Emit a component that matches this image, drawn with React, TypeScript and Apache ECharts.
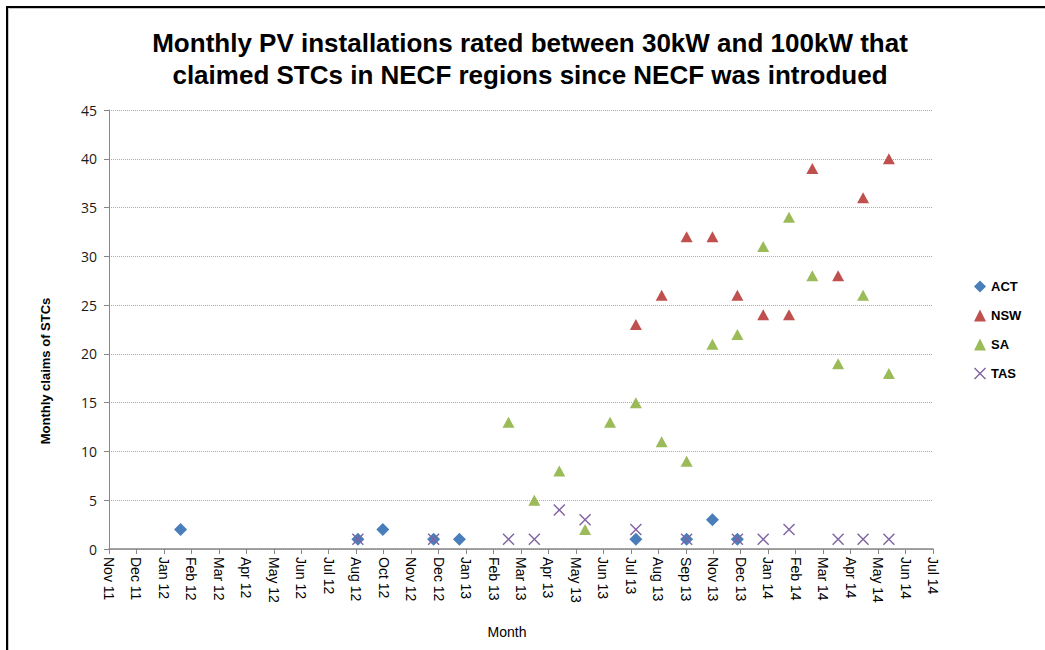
import React, { useEffect, useRef } from "react";
import * as echarts from "echarts";

// ---- data ----
const actMonths = ["2012-02", "2012-09", "2012-10", "2012-12", "2013-01", "2013-08", "2013-10", "2013-11", "2013-12"];
const actValues = [2, 1, 2, 1, 1, 1, 1, 3, 1];

const nswMonths = ["2013-08", "2013-09", "2013-10", "2013-11", "2013-12", "2014-01", "2014-02", "2014-03", "2014-04", "2014-05", "2014-06"];
const nswValues = [23, 26, 32, 32, 26, 24, 24, 39, 28, 36, 40];

const saMonths = ["2013-03", "2013-04", "2013-05", "2013-06", "2013-07", "2013-08", "2013-09", "2013-10", "2013-11", "2013-12", "2014-01", "2014-02", "2014-03", "2014-04", "2014-05", "2014-06"];
const saValues = [13, 5, 8, 2, 13, 15, 11, 9, 21, 22, 31, 34, 28, 19, 26, 18];

const tasMonths = ["2012-09", "2012-12", "2013-03", "2013-04", "2013-05", "2013-06", "2013-08", "2013-10", "2013-12", "2014-01", "2014-02", "2014-04", "2014-05", "2014-06"];
const tasValues = [1, 1, 1, 1, 4, 3, 2, 1, 1, 1, 2, 1, 1, 1];

// x axis: Excel-like date axis, ticks every 33 days from 7 Nov 2011
const axisStart = Date.UTC(2011, 10, 7);
const tickDays = 33;
const tickCount = 30;
const DAY = 86400000;
const monthNames = ["Jan", "Feb", "Mar", "Apr", "May", "Jun", "Jul", "Aug", "Sep", "Oct", "Nov", "Dec"];

const yMax = 45;
const yStep = 5;

const title1 = "Monthly PV installations rated between 30kW and 100kW that";
const title2 = "claimed STCs in NECF regions since NECF was introdued";

function toDays(m: string): number {
  const [y, mo] = m.split("-").map(Number);
  return (Date.UTC(y, mo - 1, 1) - axisStart) / DAY;
}
function pts(months: string[], vals: number[]) {
  return months.map((m, i) => [toDays(m), vals[i]]);
}
function fmtX(v: number): string {
  const d = new Date(axisStart + v * DAY);
  return monthNames[d.getUTCMonth()] + " " + String(d.getUTCFullYear() % 100).padStart(2, "0");
}

const crossPath = "path://M0,1L1,0L6,5L11,0L12,1L7,6L12,11L11,12L6,7L1,12L0,11L5,6Z";

export default function App() {
  const ref = useRef<HTMLDivElement>(null);
  useEffect(() => {
    if (!ref.current) return;
    const chart = echarts.init(ref.current, undefined, { renderer: "svg" });
    chart.setOption({
      animation: false,
      backgroundColor: "#ffffff",
      grid: { left: 109, right: 112, top: 110, bottom: 101, containLabel: false },
      xAxis: {
        type: "value",
        min: 0,
        max: tickDays * tickCount,
        interval: tickDays,
        axisLine: { show: true, onZero: false, lineStyle: { color: "#868686", width: 1.5 } },
        axisTick: { show: true, length: 5, lineStyle: { color: "#868686" } },
        splitLine: { show: false },
        axisLabel: {
          rotate: -90,
          margin: 8,
          fontSize: 14,
          color: "#000",
          fontFamily: "Liberation Sans",
          formatter: (v: number) => fmtX(v),
        },
      },
      yAxis: {
        type: "value",
        min: 0,
        max: yMax,
        interval: yStep,
        axisLine: { show: true, lineStyle: { color: "#868686", width: 1 } },
        axisTick: { show: true, length: 5, lineStyle: { color: "#868686" } },
        splitLine: { show: true, lineStyle: { color: "#8fb0dc", type: "dotted", width: 1 } },
        axisLabel: { fontSize: 14, color: "#1a1a1a", margin: 12, fontFamily: "Open Sans" },
      },
      legend: {
        orient: "vertical",
        left: 969,
        top: 275,
        itemWidth: 12,
        itemHeight: 12,
        itemGap: 16,
        textStyle: { fontSize: 13, fontWeight: "bold", color: "#000", fontFamily: "Liberation Sans" },
        data: ["ACT", "NSW", "SA", "TAS"],
      },
      series: [
        {
          name: "ACT",
          type: "scatter",
          symbol: "diamond",
          symbolSize: [13, 13],
          itemStyle: { color: "#4a7ebb", opacity: 1 },
          data: pts(actMonths, actValues),
        },
        {
          name: "NSW",
          type: "scatter",
          symbol: "triangle",
          symbolSize: [12, 11],
          itemStyle: { color: "#c0504d", opacity: 1 },
          data: pts(nswMonths, nswValues),
        },
        {
          name: "SA",
          type: "scatter",
          symbol: "triangle",
          symbolSize: [12, 11],
          itemStyle: { color: "#9bbb59", opacity: 1 },
          data: pts(saMonths, saValues),
        },
        {
          name: "TAS",
          type: "scatter",
          symbol: crossPath,
          symbolSize: [12, 12],
          itemStyle: { color: "#8064a2", opacity: 1 },
          data: pts(tasMonths, tasValues),
        },
      ],
      graphic: [
        {
          type: "rect",
          shape: { x: 7, y: 7, width: 1200, height: 800 },
          style: { fill: "none", stroke: "#000", lineWidth: 2 },
          silent: true,
        },
        {
          type: "rect",
          shape: { x: 8.5, y: 8.5, width: 1200, height: 800 },
          style: { fill: "none", stroke: "#c8c8c8", lineWidth: 1 },
          silent: true,
        },
        {
          type: "text",
          x: 530,
          y: 43,
          style: { text: title1, fill: "#000", font: "bold 26px 'Liberation Sans'", align: "center", verticalAlign: "middle" },
        },
        {
          type: "text",
          x: 530,
          y: 75,
          style: { text: title2, fill: "#000", font: "bold 26px 'Liberation Sans'", align: "center", verticalAlign: "middle" },
        },
        {
          type: "text",
          x: 45,
          y: 371,
          rotation: Math.PI / 2,
          style: { text: "Monthly claims of STCs", fill: "#000", font: "bold 13px 'Liberation Sans'", align: "center", verticalAlign: "middle" },
        },
        {
          type: "text",
          x: 507,
          y: 632,
          style: { text: "Month", fill: "#000", font: "14px 'Liberation Sans'", align: "center", verticalAlign: "middle" },
        },
      ],
    });
    return () => chart.dispose();
  }, []);
  return <div ref={ref} style={{ position: "fixed", left: 0, top: 0, width: 1045, height: 650 }} />;
}
